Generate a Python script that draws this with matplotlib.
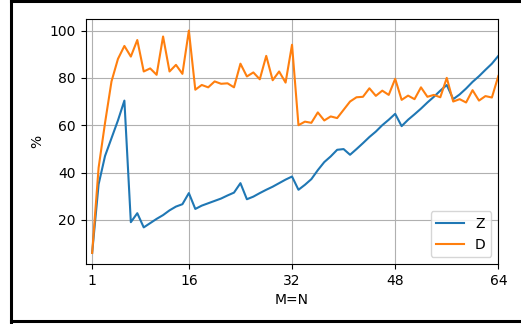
import matplotlib
matplotlib.use('Agg')
import matplotlib.pyplot as plt
from matplotlib.lines import Line2D

# sizes M=N from 1 to 64
mn = list(range(1, 65))

z_vals = [6, 35, 47, 54.5, 62, 70.4, 19, 22.8, 16.8, 18.6,
          20.4, 22, 24, 25.6, 26.6, 31.3, 24.6, 26, 27, 28,
          29, 30.3, 31.5, 35.5, 28.7, 29.8, 31.3, 32.7, 34, 35.5,
          37, 38.3, 32.7, 34.8, 37.2, 41, 44.4, 46.8, 49.6, 49.9,
          47.5, 49.9, 52.4, 55, 57.3, 60, 62.3, 64.8, 59.6, 62.3,
          64.6, 67, 69.6, 72, 74.6, 77, 71, 73, 75.5, 78.3,
          80.7, 83.4, 86, 89.3]

d_vals = [6, 42, 61, 78.5, 88, 93.5, 89, 96, 82.7, 84,
          81.3, 97.5, 82.7, 85.5, 81.7, 100, 75, 77, 76, 78.5,
          77.5, 77.7, 76, 86, 80.6, 82.3, 79.4, 89.3, 79, 82.7,
          78, 94, 60, 61.5, 61, 65.4, 62, 63.7, 63, 66.5,
          70, 71.8, 72, 75.6, 72.4, 74.6, 72.8, 79.6, 70.7, 72.5,
          71, 76, 72, 72.8, 71.8, 80, 70, 71, 69.6, 74.8,
          70.4, 72.3, 71.7, 80.8]

xticks = [1, 16, 32, 48, 64]

fig = plt.figure(figsize=(5.21, 3.24), dpi=100)
ax = fig.add_axes([0.1645, 0.185, 0.792, 0.755])
ax.plot(mn, z_vals, label='Z')
ax.plot(mn, d_vals, label='D')
ax.set_xlim(0, 64)
ax.set_xticks(xticks)
ax.set_yticks([20, 40, 60, 80, 100])
ax.set_xlabel('M=N')
ax.set_ylabel('%')
ax.grid(True)
ax.legend(loc='lower right')

# black frame round the picture (right side is cut off in the reference)
for xs, ys in [([0.022, 0.022], [0.0, 1.0]),
               ([0.022, 1.0], [0.996, 0.996]),
               ([0.022, 1.0], [0.009, 0.009])]:
    fig.add_artist(Line2D(xs, ys, color='black', linewidth=2.2, transform=fig.transFigure))

plt.savefig('out.png', dpi=100)
